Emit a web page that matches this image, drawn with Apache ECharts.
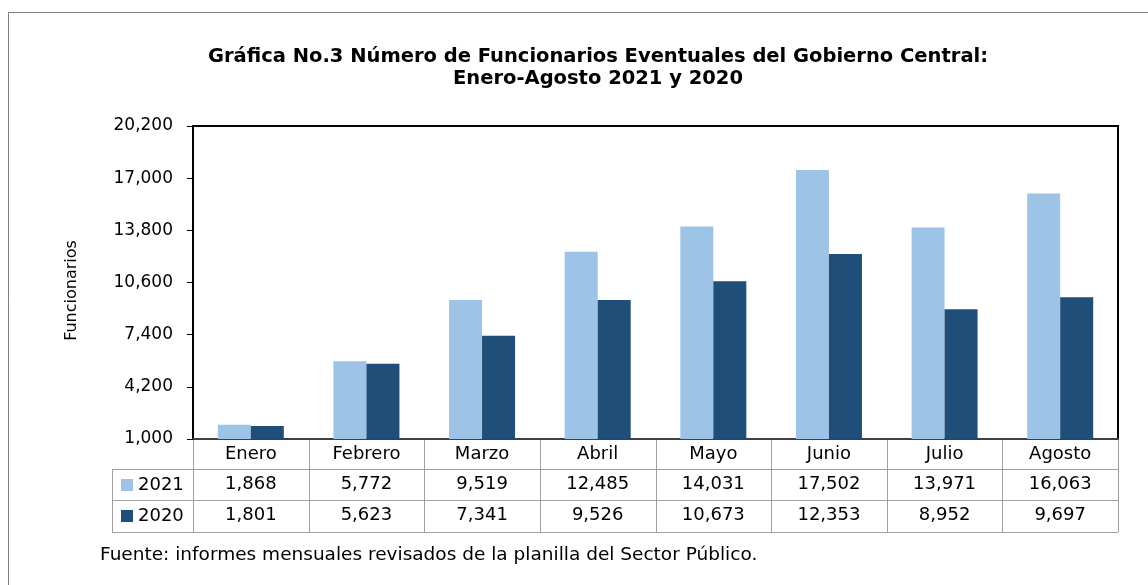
<!DOCTYPE html>
<html>
<head>
<meta charset="utf-8">
<script src="https://cdn.jsdelivr.net/npm/echarts@6/dist/echarts.min.js"></script>
<style>
  html, body { margin: 0; padding: 0; background: #fff; }
  #grafica { width: 1148px; height: 585px; }
</style>
</head>
<body>
<div id="grafica"></div>
<script>
// datos de la grafica
var meses = ['Enero', 'Febrero', 'Marzo', 'Abril', 'Mayo', 'Junio', 'Julio', 'Agosto'];
var valores2021 = [1868, 5772, 9519, 12485, 14031, 17502, 13971, 16063];
var valores2020 = [1801, 5623, 7341, 9526, 10673, 12353, 8952, 9697];
var ejeMin = 1000, ejeMax = 20200, ejePaso = 3200;

var tablaFont = '"DejaVu Sans", sans-serif';

function fmt(v) {
    return Number(v).toLocaleString('en-US');
}

// geometria de la tabla
var gLeft = 193, gRight = 1118, gTop = 126, gBottom = 439;
var colLeyenda = 112;
var filas = [439, 469, 500, 532];
var anchoCol = (gRight - gLeft) / meses.length;

var lineas = [];
var gris = '#a0a0a0';
// horizontales
for (var i = 1; i < filas.length; i++) {
    lineas.push({ type: 'line', shape: { x1: colLeyenda, y1: filas[i] + 0.5, x2: gRight, y2: filas[i] + 0.5 }, style: { stroke: gris, lineWidth: 1 } });
}
// verticales
lineas.push({ type: 'line', shape: { x1: colLeyenda + 0.5, y1: filas[1], x2: colLeyenda + 0.5, y2: filas[3] }, style: { stroke: gris, lineWidth: 1 } });
for (var j = 0; j <= meses.length; j++) {
    var x = Math.round(gLeft + anchoCol * j) + 0.5;
    lineas.push({ type: 'line', shape: { x1: x, y1: filas[0], x2: x, y2: filas[3] }, style: { stroke: gris, lineWidth: 1 } });
}
// marco exterior
lineas.push({ type: 'rect', shape: { x: 8.5, y: 12.5, width: 1160, height: 600 }, style: { fill: 'none', stroke: '#7f7f7f', lineWidth: 1 } });
// fuente
lineas.push({
    type: 'text', left: 100, top: 546,
    style: { text: 'Fuente: informes mensuales revisados de la planilla del Sector Público.', font: '18.5px ' + tablaFont, fill: '#000' }
});

var myChart = echarts.init(document.getElementById('grafica'));
var option = {
    backgroundColor: '#fff',
    animation: false,
    title: {
        text: 'Gráfica No.3 Número de Funcionarios Eventuales del Gobierno Central:\nEnero-Agosto 2021 y 2020',
        left: 593,
        top: 41,
        textAlign: 'center',
        textStyle: {
            fontFamily: '"DejaVu Sans", sans-serif',
            fontWeight: 'bold',
            fontSize: 19.5,
            lineHeight: 22,
            color: '#000'
        }
    },
    legend: {
        orient: 'vertical',
        left: 116,
        top: 470,
        itemWidth: 12,
        itemHeight: 12,
        itemGap: 11,
        icon: 'rect',
        data: ['2021', '2020'],
        textStyle: { fontFamily: tablaFont, fontSize: 18, lineHeight: 20, color: '#000' }
    },
    grid: {
        left: gLeft,
        right: 1148 - gRight,
        top: gTop,
        bottom: 585 - gBottom,
        show: true,
        borderColor: '#000',
        borderWidth: 2,
        containLabel: false
    },
    xAxis: [
        {
            type: 'category',
            data: meses,
            axisLine: { show: true, lineStyle: { color: '#404040', width: 2 } },
            axisTick: { show: false },
            axisLabel: { margin: 15, verticalAlign: 'middle', fontFamily: tablaFont, fontSize: 18, color: '#000' }
        },
        {
            type: 'category',
            position: 'bottom',
            data: valores2021.map(fmt),
            axisLine: { show: false },
            axisTick: { show: false },
            axisLabel: { margin: 45, verticalAlign: 'middle', fontFamily: tablaFont, fontSize: 18, color: '#000' }
        },
        {
            type: 'category',
            position: 'bottom',
            data: valores2020.map(fmt),
            axisLine: { show: false },
            axisTick: { show: false },
            axisLabel: { margin: 76, verticalAlign: 'middle', fontFamily: tablaFont, fontSize: 18, color: '#000' }
        }
    ],
    yAxis: {
        type: 'value',
        min: ejeMin,
        max: ejeMax,
        interval: ejePaso,
        name: 'Funcionarios',
        nameLocation: 'middle',
        nameRotate: 90,
        nameGap: 113,
        nameTextStyle: { fontFamily: '"DejaVu Sans", sans-serif', fontSize: 16, color: '#000', padding: [0, 16, 0, 0] },
        axisLine: { show: true, lineStyle: { color: '#000', width: 2 } },
        axisTick: { show: true, inside: false, length: 6, lineStyle: { color: '#000' } },
        splitLine: { show: false },
        axisLabel: {
            margin: 20,
            fontFamily: '"DejaVu Sans", sans-serif',
            fontSize: 17,
            color: '#000',
            formatter: function (v) { return fmt(v); }
        }
    },
    series: [
        {
            name: '2021',
            type: 'bar',
            data: valores2021,
            barWidth: 33,
            barGap: '0%',
            itemStyle: { color: '#9dc3e6' }
        },
        {
            name: '2020',
            type: 'bar',
            data: valores2020,
            barWidth: 33,
            barGap: '0%',
            itemStyle: { color: '#1f4e79' }
        }
    ],
    graphic: lineas
};
myChart.setOption(option);
</script>
</body>
</html>
